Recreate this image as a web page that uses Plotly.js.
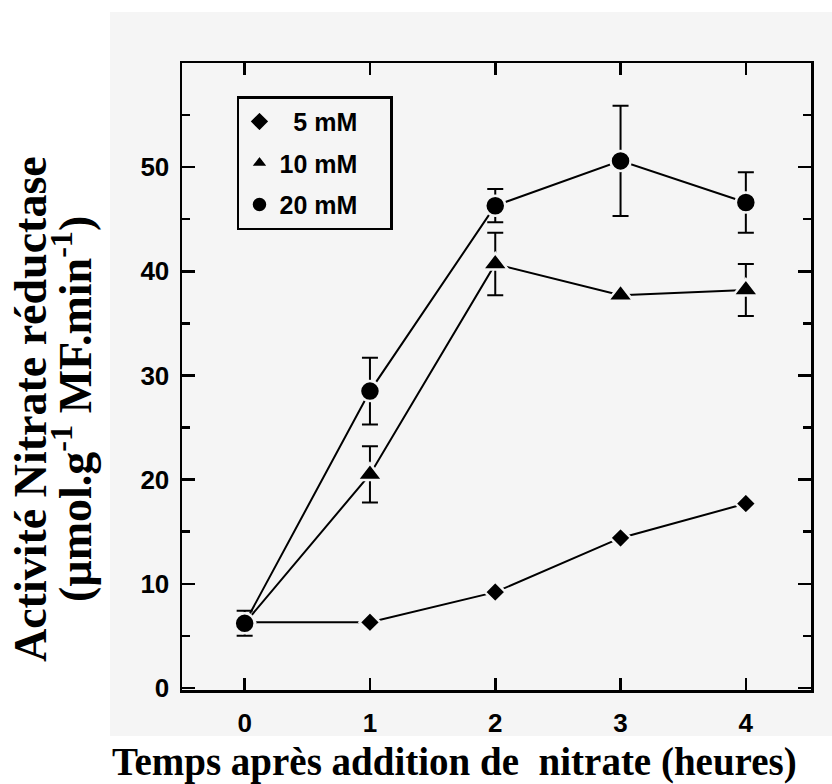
<!DOCTYPE html>
<html><head><meta charset="utf-8">
<script src="https://cdn.plot.ly/plotly-3.0.1.min.js"></script>
<style>html,body{margin:0;padding:0;background:#fff}</style>
</head><body><div id="chart" style="width:832px;height:784px"></div>
<script>
// ---- data ----
const hours = [0, 1, 2, 3, 4];
const xTickLabels = ['0', '1', '2', '3', '4'];
const yTickVals = [0, 10, 20, 30, 40, 50];
const seriesNames = ['5 mM', '10 mM', '20 mM'];
const nr5mM = [6.3, 6.3, 9.2, 14.4, 17.7];
const nr10mM = [6.2, 20.5, 40.7, 37.7, 38.2];
const err10mM = [NaN, 2.7, 3.0, NaN, 2.5];
const nr20mM = [6.2, 28.5, 46.3, 50.6, 46.6];
const err20mM = [1.2, 3.2, 1.6, 5.3, 2.9];
const xTitle = 'Temps après addition de \u00a0nitrate (heures)';
const yTitle1 = 'Activité Nitrate réductase';
const yTitle2 = '(µmol.g<sup>-1</sup> MF.min<sup>-1</sup>)';

// ---- styles ----
const BG = '#f5f5f5';
const sans = 'Liberation Sans, Arial, Helvetica, sans-serif';
const serif = 'Liberation Serif, Times New Roman, serif';
const pad = '\u00a0';

const seriesY = [nr5mM, nr10mM, nr20mM];
const seriesErr = [null, err10mM, err20mM];
const symbols = ['diamond', 'triangle-up', 'circle'];
const sizes = [16, 22, 20];
const tail = pad.repeat(4);
const legendLabels = [pad + pad + seriesNames[0] + tail, seriesNames[1] + tail, seriesNames[2] + tail];

const traces = [];
// connecting lines first (under markers)
seriesY.forEach((ys, i) => {
  traces.push({
    x: hours, y: ys, type: 'scatter', mode: 'lines',
    line: {color: '#000', width: 2}, showlegend: false, hoverinfo: 'skip',
    legendgroup: 'g' + i
  });
});
// markers with error bars
seriesY.forEach((ys, i) => {
  const t = {
    x: hours, y: ys, type: 'scatter', mode: 'markers', name: legendLabels[i],
    legendgroup: 'g' + i,
    marker: {symbol: symbols[i], size: sizes[i], color: '#000', line: {color: BG, width: 2.5}}
  };
  if (seriesErr[i]) {
    t.error_y = {type: 'data', array: seriesErr[i], visible: true, color: '#000', thickness: 2, width: 8};
  }
  traces.push(t);
});

const axisCommon = {
  showline: true, linecolor: '#000', linewidth: 2.5, mirror: 'allticks',
  ticks: 'inside', tickcolor: '#000', tickwidth: 2.5,
  showgrid: false, zeroline: false,
  tickfont: {family: sans, size: 26, color: '#000', weight: 'bold'}
};

const layout = {
  width: 832, height: 784,
  margin: {l: 182, r: 21, t: 63, b: 94},
  paper_bgcolor: '#ffffff', plot_bgcolor: 'rgba(0,0,0,0)',
  showlegend: true,
  xaxis: Object.assign({}, axisCommon, {
    range: [-0.5, 4.52], tickmode: 'array', tickvals: hours, ticktext: xTickLabels,
    ticklen: 12, ticklabelstandoff: 8
  }),
  yaxis: Object.assign({}, axisCommon, {
    range: [-0.2, 60], tickmode: 'array', tickvals: yTickVals,
    ticklen: 13, ticklabelstandoff: 5,
    minor: {ticks: 'inside', ticklen: 8, tick0: 0, dtick: 5, tickwidth: 2.5, tickcolor: '#000', showgrid: false}
  }),
  legend: {
    x: 0.0874, y: 0.947, xanchor: 'left', yanchor: 'top',
    bgcolor: BG, bordercolor: '#000', borderwidth: 2.5,
    font: {family: sans, size: 25, color: '#000', weight: 'bold'},
    tracegroupgap: 6, itemclick: false
  },
  shapes: [{
    type: 'rect', xref: 'paper', yref: 'paper', layer: 'below',
    x0: -0.1145, x1: 1.0334, y0: -0.0734, y1: 1.0813,
    fillcolor: BG, line: {width: 0}
  }],
  annotations: [
    {text: '<b>' + xTitle + '</b>', xref: 'paper', yref: 'paper', x: 0.434, y: -0.1148,
     xanchor: 'center', yanchor: 'middle', showarrow: false,
     font: {family: serif, size: 39, color: '#000'}},
    {text: '<b>' + yTitle1 + '</b>', xref: 'paper', yref: 'paper', x: -0.2417, y: 0.448,
     xanchor: 'center', yanchor: 'middle', showarrow: false, textangle: -90,
     font: {family: serif, size: 46, color: '#000'}},
    {text: '<b>' + yTitle2 + '</b>', xref: 'paper', yref: 'paper', x: -0.1749, y: 0.448,
     xanchor: 'center', yanchor: 'middle', showarrow: false, textangle: -90,
     font: {family: serif, size: 46, color: '#000'}}
  ]
};

Plotly.newPlot('chart', traces, layout, {displayModeBar: false, staticPlot: true});
</script>
</body></html>
